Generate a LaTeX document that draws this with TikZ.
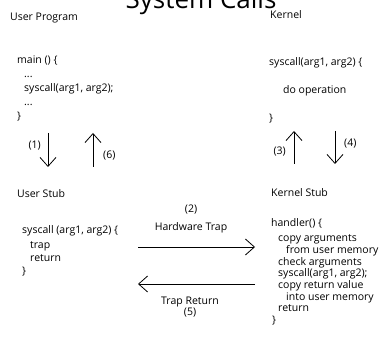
\documentclass[tikz,border=0pt]{standalone}
\usepackage{fontspec}
\setmainfont{Open Sans}
\usetikzlibrary{arrows.meta}
\tikzset{>={Straight Barb[length=9pt,width=16pt]}}
\tikzset{
  txt/.style={anchor=base west, inner sep=0pt, font=\fontsize{10.5}{12}\selectfont},
  num/.style={inner sep=0pt, font=\fontsize{10.5}{12}\selectfont},
  flow/.style={->, line width=0.8pt},
}
% block of lines whose base is the first line
\newcommand{\codelines}[1]{\begin{tabular}[t]{@{}l@{}}#1\end{tabular}}

\begin{document}
\begin{tikzpicture}[x=1pt, y=-1pt]
  \useasboundingbox (0,0) rectangle (386,350);
  \clip (0,0) rectangle (386,350);

  % title, cut by the page edge
  \node[anchor=base, inner sep=0pt, font=\fontsize{26}{26}\selectfont] (title) at (201,9) {System Calls};

  % user side
  \node[txt] (prog) at (10,21) {User Program};
  \node[txt, font=\fontsize{10.5}{14}\selectfont] (main) at (17,64)
    {\codelines{main () \{\\ \hspace{7pt}...\\ \hspace{7pt}syscall(arg1, arg2);\\ \hspace{7pt}...\\ \}}};
  \node[txt] (ustub) at (17,198) {User Stub};
  \node[txt, font=\fontsize{10.5}{13}\selectfont] (ucall) at (22,234)
    {\codelines{syscall (arg1, arg2) \{\\[2pt] \hspace{8pt}trap\\ \hspace{8pt}return\\ \}}};

  % kernel side
  \node[txt] (kern) at (270,19) {Kernel};
  \node[txt, font=\fontsize{10.5}{14}\selectfont] (kcall) at (269,66)
    {\codelines{syscall(arg1, arg2) \{\\ \\ \hspace{14pt}do operation\\ \\ \}}};
  \node[txt] (kstub) at (271,197) {Kernel Stub};
  \node[txt, font=\fontsize{10.5}{11.7}\selectfont] (handler) at (271,227)
    {\codelines{handler() \{\\[3pt]
     \hspace{7pt}copy arguments\\
     \hspace{15pt}from user memory\\
     \hspace{7pt}check arguments\\
     \hspace{7pt}syscall(arg1, arg2);\\
     \hspace{7pt}copy return value\\
     \hspace{15pt}into user memory\\
     \hspace{7pt}return\\
     \hspace{1pt}\}}};

  % arrows
  \coordinate (a1) at (48,133);  \coordinate (b1) at (48,167);
  \coordinate (a6) at (93,167);  \coordinate (b6) at (93,133);
  \coordinate (a3) at (294,164); \coordinate (b3) at (294,131);
  \coordinate (a4) at (335,131); \coordinate (b4) at (335,164);
  \coordinate (a2) at (138,247); \coordinate (b2) at (255,247);
  \coordinate (a5) at (255,284); \coordinate (b5) at (138,284);

  \draw[flow] (a1) -- (b1);
  \draw[flow] (a6) -- (b6);
  \draw[flow] (a3) -- (b3);
  \draw[flow] (a4) -- (b4);
  \draw[flow] (a2) -- (b2);
  \draw[flow] (a5) -- (b5);

  \node[num, anchor=east] (n1) at (41,146) {(1)};
  \node[num, anchor=west] (n6) at (103,156) {(6)};
  \node[num, anchor=east] (n3) at (286,152) {(3)};
  \node[num, anchor=west] (n4) at (344,144) {(4)};
  \node[num] (n2) at (191,210) {(2)};
  \node[num] (trap) at (191,228) {Hardware Trap};
  \node[num] (ret) at (190,302) {Trap Return};
  \node[num] (n5) at (190,313) {(5)};
\end{tikzpicture}
\end{document}
